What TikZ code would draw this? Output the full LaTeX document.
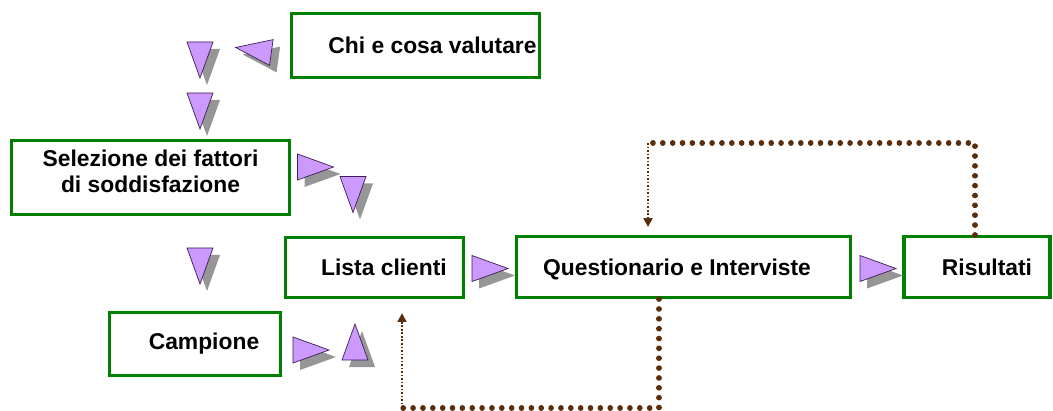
\documentclass[tikz,border=0pt]{standalone}
\usepackage{fontspec}
\setmainfont{Liberation Sans}
\usetikzlibrary{arrows.meta}
\definecolor{boxgreen}{RGB}{0,128,0}
\definecolor{trifill}{RGB}{204,153,255}
\definecolor{triline}{RGB}{60,30,80}
\definecolor{trigray}{RGB}{150,150,150}
\definecolor{loopbrown}{RGB}{90,45,12}

% triangle marker with its shadow: x, y, direction
\newcommand{\flowtri}[3]{%
  \fill[trishadow, shift={(#1+7,#2+7)}, rotate=#3] (18,0) -- (-18,13) -- (-18,-13) -- cycle;
  \filldraw[trihead, shift={(#1,#2)}, rotate=#3] (18,0) -- (-18,13) -- (-18,-13) -- cycle;
}

\begin{document}
\begin{tikzpicture}
  [x=0.02cm, y=-0.02cm,
   box/.style={draw=boxgreen, line width=1.8pt, fill=white, inner sep=0pt},
   lbl/.style={font=\bfseries\fontsize{13}{14.7}\selectfont, align=center, inner sep=0pt},
   trihead/.style={fill=trifill, draw=triline, line width=0.4pt},
   trishadow/.style={fill=trigray},
   bigdots/.style={loopbrown, line width=3.2pt, line cap=round, dash pattern=on 0.01pt off 5.6pt},
   smalldots/.style={loopbrown, line width=1.3pt, dash pattern=on 1pt off 1pt,
                     -{Triangle[width=5pt, length=5pt]}}]
  \useasboundingbox (0,0) rectangle (1053,411);

  % boxes
  \node[box, minimum width=4.96cm, minimum height=1.28cm,
        label={[lbl, xshift=0.34cm]center:Chi e cosa valutare}] (chi) at (415.5,45.5) {};
  \node[box, minimum width=5.56cm, minimum height=1.48cm,
        label={[lbl, yshift=0.12cm]center:Selezione dei fattori\\di soddisfazione}] (selez) at (150.5,177.5) {};
  \node[box, minimum width=3.56cm, minimum height=1.2cm,
        label={[lbl, xshift=0.19cm]center:Lista clienti}] (lista) at (374.5,267.5) {};
  \node[box, minimum width=6.68cm, minimum height=1.22cm,
        label={[lbl, xshift=-0.13cm, yshift=-0.05cm]center:Questionario e Interviste}] (quest) at (683.5,267) {};
  \node[box, minimum width=2.92cm, minimum height=1.22cm,
        label={[lbl, xshift=0.2cm]center:Risultati}] (risult) at (977,267) {};
  \node[box, minimum width=3.42cm, minimum height=1.26cm,
        label={[lbl, xshift=0.18cm]center:Campione}] (camp) at (195,344) {};

  % triangles
  \foreach \x/\y/\a in {200/60/270, 253.5/50/172, 200/111/270, 315.5/167/0,
                        353/194.5/270, 200/266/270, 311/350/0, 355/342/90,
                        490/268.5/0, 878/268.5/0}
    \flowtri{\x}{\y}{\a};

  % feedback loops
  \coordinate (loopr) at (975,143);
  \coordinate (loopl) at (648,143);
  \coordinate (loopd) at (659,408);
  \coordinate (loopb) at (402,408);
  \draw[bigdots] (loopr |- risult.north) -- (loopr) -- (loopl);
  \draw[smalldots, shorten >=4.5pt] (loopl) -- (loopl |- quest.north);
  \draw[bigdots] (loopd |- quest.south) -- (loopd) -- (loopb);
  \draw[smalldots, shorten >=8pt] (loopb) -- (loopb |- lista.south);
\end{tikzpicture}
\end{document}
